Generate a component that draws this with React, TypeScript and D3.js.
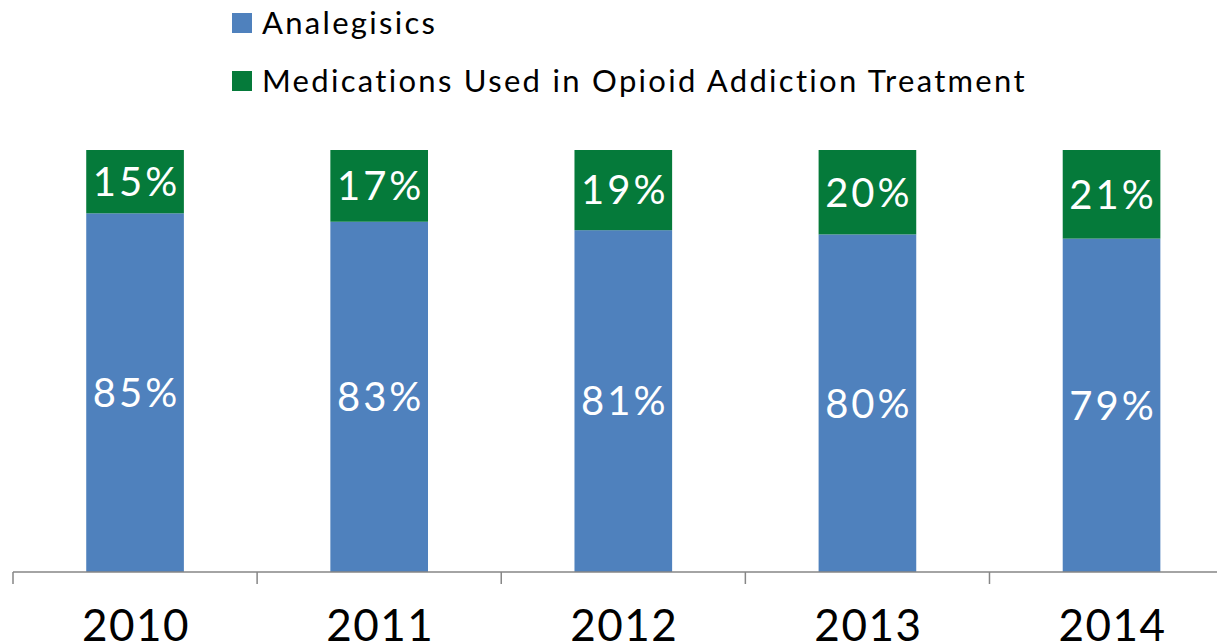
import React from "react";
import * as d3 from "d3";

const years = ["2010", "2011", "2012", "2013", "2014"];
const analgesics = [85, 83, 81, 80, 79];
const medications = [15, 17, 19, 20, 21];
const seriesNames = ["Analegisics", "Medications Used in Opioid Addiction Treatment"];
const seriesColors = ["#4F81BD", "#057A3A"];

const W = 1217;
const H = 642;
const FONT = "Lato, 'Open Sans', sans-serif";

export default function App() {
  const x = d3.scaleBand<string>().domain(years).range([13, 1233.6]).paddingInner(0.6).paddingOuter(0.3);
  const y = d3.scaleLinear().domain([0, 100]).range([572, 150]);
  const rows = years.map((yr, i) => ({ year: yr, a: analgesics[i], m: medications[i] }));
  const stack = d3.stack<any>().keys(["a", "m"])(rows);
  const step = x.step();
  const ticks = d3.range(years.length + 1).map((i) => 13 + i * step);

  return (
    <svg width={W} height={H} style={{ position: "absolute", left: 0, top: 0 }}>
      <rect width={W} height={H} fill="#fff" />
      {stack.map((s, si) =>
        s.map((d, i) => {
          const x0 = x(years[i])!;
          const bw = x.bandwidth();
          const top = y(d[1]);
          const bot = y(d[0]);
          const val = si === 0 ? analgesics[i] : medications[i];
          return (
            <g key={`${si}-${i}`}>
              <rect x={x0} y={top} width={bw} height={bot - top} fill={seriesColors[si]} />
              <text
                x={x0 + bw / 2 + 1.5}
                y={(top + bot) / 2}
                dy="0.36em"
                textAnchor="middle"
                fill="#fff"
                fontFamily={FONT}
                fontSize={40}
                letterSpacing={3}
              >
                {val}%
              </text>
            </g>
          );
        })
      )}
      <line x1={13} x2={W} y1={572} y2={572} stroke="#868686" strokeWidth={1.5} />
      {ticks.map((t, i) => (
        <line key={i} x1={t} x2={t} y1={572} y2={584} stroke="#868686" strokeWidth={1.5} />
      ))}
      {years.map((yr) => (
        <text
          key={yr}
          x={x(yr)! + x.bandwidth() / 2 + 1}
          y={641}
          textAnchor="middle"
          fill="#000"
          fontFamily={FONT}
          fontSize={44}
          letterSpacing={1.5}
        >
          {yr}
        </text>
      ))}
      {seriesNames.map((n, i) => (
        <g key={n} transform={`translate(232, ${13 + i * 58})`}>
          <rect width={20} height={20} fill={seriesColors[i]} />
          <text x={30} y={10} dy="0.36em" fontFamily={FONT} fontSize={31} fill="#000" letterSpacing={2.3}>
            {n}
          </text>
        </g>
      ))}
    </svg>
  );
}
